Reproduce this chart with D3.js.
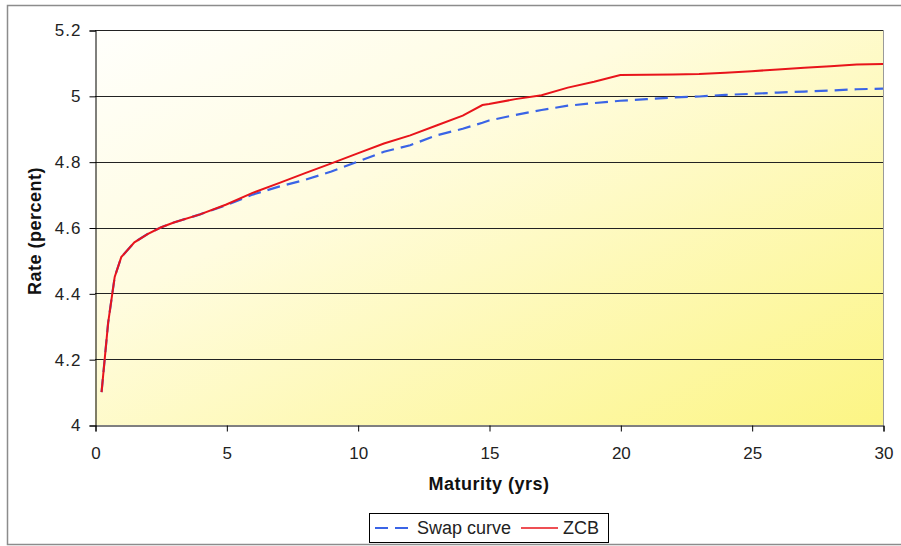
<!DOCTYPE html>
<html>
<head>
<meta charset="utf-8">
<script src="https://cdn.jsdelivr.net/npm/d3@7/dist/d3.min.js"></script>
<style>
  html, body { margin: 0; padding: 0; background: #ffffff; }
  svg { display: block; font-family: "Liberation Sans", Arial, sans-serif; }
</style>
</head>
<body>
<svg id="chart" width="901" height="546"></svg>
<script>
// Maturities (years) shared by both curves
const maturities = [0.25, 0.5, 0.75, 1, 1.5, 2, 2.5, 3, 4, 5, 6, 7, 8, 9, 10, 11, 12, 13, 14, 14.75,
                    15, 16, 17, 18, 19, 20, 21, 22, 23, 24, 25, 26, 27, 28, 29, 30];
// Par swap rates (percent)
const swapRates = [4.10, 4.31, 4.45, 4.51, 4.555, 4.58, 4.60, 4.615, 4.64, 4.668, 4.70, 4.724, 4.745, 4.77, 4.80,
                   4.83, 4.85, 4.88, 4.90, 4.918, 4.925, 4.942, 4.957, 4.97, 4.978, 4.985, 4.99, 4.995,
                   4.998, 5.003, 5.006, 5.01, 5.013, 5.016, 5.02, 5.022];
// Zero-coupon bond rates (percent)
const zcbRates = [4.10, 4.31, 4.45, 4.51, 4.555, 4.58, 4.60, 4.615, 4.64, 4.67, 4.705, 4.735, 4.765, 4.795, 4.825,
                  4.855, 4.88, 4.91, 4.94, 4.972, 4.975, 4.99, 5.002, 5.025, 5.043, 5.063, 5.064, 5.065,
                  5.066, 5.07, 5.075, 5.08, 5.085, 5.09, 5.095, 5.097];
const xTicks = [0, 5, 10, 15, 20, 25, 30];
const yTicks = [4, 4.2, 4.4, 4.6, 4.8, 5, 5.2];

const svg = d3.select("#chart");
const plot = { left: 95, right: 883, top: 30, bottom: 425 };

const x = d3.scaleLinear().domain([0, 30]).range([plot.left, plot.right]);
const y = d3.scaleLinear().domain([4, 5.2]).range([plot.bottom, plot.top]);

const blue = "#3a64e6";
const red = "#e8141b";

// Outer chart frame
svg.append("rect")
  .attr("x", 7.5).attr("y", 5.5).attr("width", 900).attr("height", 539)
  .attr("fill", "#ffffff").attr("stroke", "#8c8c8c").attr("stroke-width", 1.5);

// Plot background: corner gradient from near white to yellow
const defs = svg.append("defs");
const grad = defs.append("linearGradient").attr("id", "bg")
  .attr("x1", "0").attr("y1", "0").attr("x2", "1").attr("y2", "1");
grad.append("stop").attr("offset", "0").attr("stop-color", "#fffffc");
grad.append("stop").attr("offset", "0.35").attr("stop-color", "#fffce0");
grad.append("stop").attr("offset", "1").attr("stop-color", "#fcf584");

svg.append("rect")
  .attr("x", plot.left).attr("y", plot.top)
  .attr("width", plot.right - plot.left).attr("height", plot.bottom - plot.top)
  .attr("fill", "url(#bg)");

// Right plot edge
svg.append("line")
  .attr("x1", plot.right + 0.5).attr("x2", plot.right + 0.5)
  .attr("y1", plot.top).attr("y2", plot.bottom)
  .attr("stroke", "#9a9a9a").attr("stroke-width", 1);

// Horizontal gridlines
svg.append("g").selectAll("line").data(yTicks.filter(d => d > 4)).join("line")
  .attr("x1", plot.left).attr("x2", plot.right)
  .attr("y1", d => Math.round(y(d)) + 0.5).attr("y2", d => Math.round(y(d)) + 0.5)
  .attr("stroke", "#222").attr("stroke-width", 1);

// Axes
const yAxis = d3.axisLeft(y).tickValues(yTicks).tickSize(6).tickPadding(8)
  .tickFormat(d => d3.format("")(+d.toFixed(1)));
const gy = svg.append("g").attr("transform", `translate(${plot.left + 0.5},0.5)`).call(yAxis);
const xAxis = d3.axisBottom(x).tickValues(xTicks).tickSize(6).tickPadding(15);
const gx = svg.append("g").attr("transform", `translate(0.5,${plot.bottom + 0.5})`).call(xAxis);

[gy, gx].forEach(g => {
  g.select(".domain").attr("stroke", "#000").attr("stroke-width", 1);
  g.selectAll(".tick line").attr("stroke", "#000");
  g.selectAll(".tick text").attr("fill", "#222").style("font-size", "17px")
    .style("font-family", "'Liberation Sans', Arial, sans-serif");
});
gy.selectAll(".tick text").style("letter-spacing", "1px");

// Curves
const line = (vals) => d3.line()
  .x((d, i) => x(maturities[i]))
  .y(d => y(d))(vals);

svg.append("path")
  .attr("d", line(swapRates))
  .attr("fill", "none").attr("stroke", blue).attr("stroke-width", 2.2)
  .attr("stroke-dasharray", "13,7");

svg.append("path")
  .attr("d", line(zcbRates))
  .attr("fill", "none").attr("stroke", red).attr("stroke-width", 2);

// Axis titles
svg.append("text")
  .attr("x", 489).attr("y", 490).attr("text-anchor", "middle")
  .style("font-size", "18px").style("font-weight", "bold").style("letter-spacing", "0.5px")
  .attr("fill", "#111")
  .text("Maturity (yrs)");

svg.append("text")
  .attr("transform", "translate(41,231) rotate(-90)").attr("text-anchor", "middle")
  .style("font-size", "18px").style("font-weight", "bold").style("letter-spacing", "0.5px")
  .attr("fill", "#111")
  .text("Rate (percent)");

// Legend
const leg = svg.append("g");
leg.append("rect").attr("x", 369.5).attr("y", 513.5).attr("width", 239).attr("height", 29)
  .attr("fill", "#ffffff").attr("stroke", "#000").attr("stroke-width", 1);
leg.append("line").attr("x1", 375).attr("x2", 409).attr("y1", 528).attr("y2", 528)
  .attr("stroke", blue).attr("stroke-width", 2.2).attr("stroke-dasharray", "13,7");
leg.append("text").attr("x", 417).attr("y", 534).style("font-size", "18px").attr("fill", "#222")
  .text("Swap curve");
leg.append("line").attr("x1", 521).attr("x2", 558).attr("y1", 528).attr("y2", 528)
  .attr("stroke", red).attr("stroke-width", 1.5);
leg.append("text").attr("x", 563).attr("y", 534).style("font-size", "18px").attr("fill", "#222")
  .text("ZCB");
</script>
</body>
</html>
